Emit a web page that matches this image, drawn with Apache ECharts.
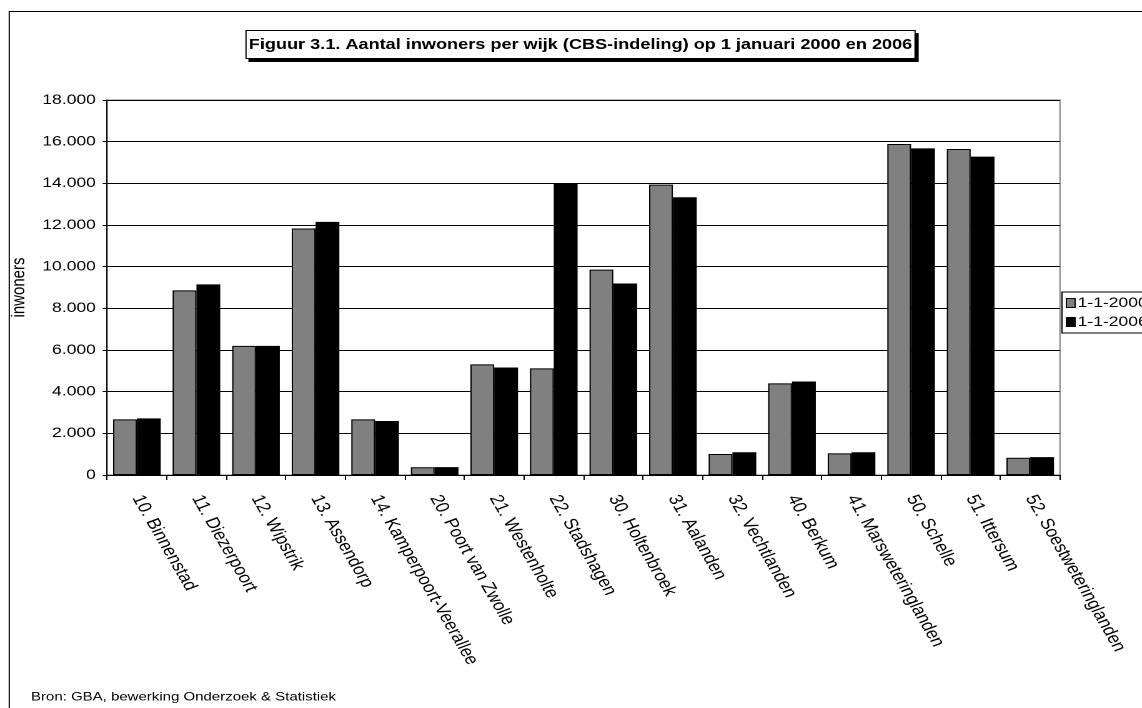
<!DOCTYPE html>
<html>
<head>
<meta charset="utf-8">
<script src="https://cdn.jsdelivr.net/npm/echarts@6/dist/echarts.min.js"></script>
<style>
html,body{margin:0;padding:0;background:#fff;overflow:hidden;}
#wrap{width:1142px;height:708px;overflow:hidden;position:relative;}
#c{width:914px;height:708px;transform:scaleX(1.2494);transform-origin:0 0;position:absolute;left:0;top:0;}
</style>
</head>
<body>
<div id="wrap"><div id="c"></div></div>
<script>
var categories = ['10. Binnenstad','11. Diezerpoort','12. Wipstrik','13. Assendorp','14. Kamperpoort-Veerallee','20. Poort van Zwolle','21. Westenholte','22. Stadshagen','30. Holtenbroek','31. Aalanden','32. Vechtlanden','40. Berkum','41. Marsweteringlanden','50. Schelle','51. Ittersum','52. Soestweteringlanden'];
var values2000 = [2670, 8860, 6200, 11830, 2670, 370, 5310, 5120, 9860, 13940, 1010, 4400, 1040, 15890, 15650, 830];
var values2006 = [2720, 9150, 6200, 12150, 2590, 380, 5160, 13980, 9190, 13330, 1090, 4490, 1090, 15680, 15280, 860];
var seriesNames = ['1-1-2000', '1-1-2006'];
var titleText = 'Figuur 3.1. Aantal inwoners per wijk (CBS-indeling) op 1 januari 2000 en 2006';
var sourceText = 'Bron: GBA, bewerking Onderzoek & Statistiek';
var yAxisName = 'inwoners';

var FONT = '"Liberation Sans", Arial, sans-serif';
var chart = echarts.init(document.getElementById('c'), null, {renderer: 'canvas', devicePixelRatio: 2});

function fmt(v) {
  return String(v).replace(/\B(?=(\d{3})+(?!\d))/g, '.');
}

chart.setOption({
  animation: false,
  backgroundColor: '#fff',
  textStyle: {fontFamily: FONT},
  grid: {left: 80, right: 65.6, top: 100, bottom: 233, show: true, borderColor: '#808080', borderWidth: 1},
  legend: {
    left: 850, top: 292, orient: 'vertical',
    data: seriesNames,
    icon: 'rect', itemWidth: 7, itemHeight: 9, itemGap: 3,
    padding: [3, 8, 3, 3],
    borderColor: '#000', borderWidth: 1, backgroundColor: '#fff',
    textStyle: {fontFamily: FONT, fontSize: 14, lineHeight: 16, color: '#000', padding: [0, 0, 0, -3]},
    itemStyle: {borderColor: '#000', borderWidth: 1}
  },
  xAxis: {
    type: 'category', data: categories,
    axisLine: {lineStyle: {color: '#000', width: 1}},
    axisTick: {show: true, length: 5, lineStyle: {color: '#000'}},
    axisLabel: {rotate: -65, interval: 0, margin: 21, fontFamily: FONT, fontSize: 15.5, color: '#000'}
  },
  yAxis: {
    type: 'value', min: 0, max: 18000, interval: 2000,
    name: yAxisName, nameLocation: 'middle', nameGap: 52, nameRotate: 90,
    nameTextStyle: {fontFamily: FONT, fontSize: 15, color: '#000'},
    axisLine: {show: true, lineStyle: {color: '#000', width: 1}},
    axisTick: {show: true, length: 3.5, lineStyle: {color: '#000'}},
    axisLabel: {formatter: fmt, fontFamily: FONT, fontSize: 14, color: '#000', margin: 9},
    splitLine: {show: true, lineStyle: {color: '#000', width: 1}}
  },
  series: [
    {name: seriesNames[0], type: 'bar', data: values2000, barGap: '0%', barCategoryGap: '20%',
     itemStyle: {color: '#808080', borderColor: '#000', borderWidth: 1}},
    {name: seriesNames[1], type: 'bar', data: values2006, barGap: '0%', barCategoryGap: '20%',
     itemStyle: {color: '#000', borderColor: '#000', borderWidth: 1}}
  ],
  graphic: [
    {type: 'rect', shape: {x: 7.4, y: 11.5, width: 1200, height: 800}, style: {fill: 'none', stroke: '#000', lineWidth: 1}, silent: true, z: 0},
    {type: 'rect', shape: {x: 199.3, y: 33.5, width: 535.5, height: 28}, style: {fill: '#000', stroke: '#000'}, silent: true, z: 10},
    {type: 'rect', shape: {x: 196.9, y: 30.5, width: 535.5, height: 28}, style: {fill: '#fff', stroke: '#000', lineWidth: 1}, silent: true, z: 11},
    {type: 'text', x: 464.6, y: 45, z: 12, style: {text: titleText, align: 'center', verticalAlign: 'middle', fontFamily: FONT, fontSize: 14.5, fontWeight: 'bold', fill: '#000'}, silent: true},
    {type: 'text', x: 24.8, y: 697, z: 12, style: {text: sourceText, align: 'left', verticalAlign: 'middle', fontFamily: FONT, fontSize: 12, fill: '#000'}, silent: true}
  ]
});
</script>
</body>
</html>
